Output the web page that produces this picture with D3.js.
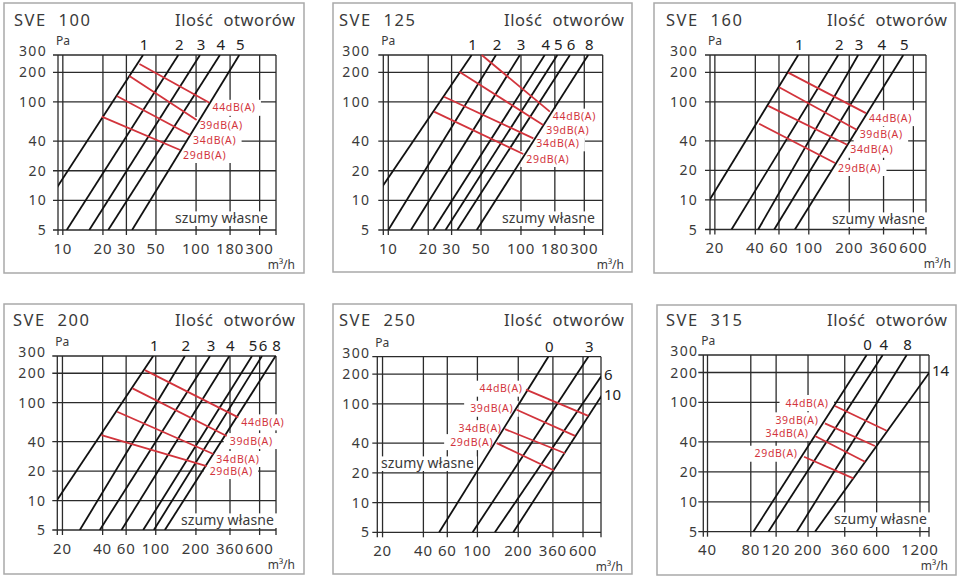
<!DOCTYPE html>
<html>
<head>
<meta charset="utf-8">
<script src="https://cdn.jsdelivr.net/npm/d3@7"></script>
<style>
  body { margin: 0; background: #fff; }
  svg { display: block; font-family: "Noto Sans", "DejaVu Sans", sans-serif; }
</style>
</head>
<body>
<svg id="chart" width="960" height="581"></svg>
<script>
// ---- data ----
const panelTitles = ['SVE  100', 'SVE  125', 'SVE  160', 'SVE  200', 'SVE  250', 'SVE  315'];
const holesTitle = 'Ilość  otworów';
const unitLabel = 'm³/h';
const pressureLabel = 'Pa';
const selfNoiseLabel = 'szumy własne';

const yTickValues = [5, 10, 20, 40, 100, 200, 300];
const xTickValues = [
  [10, 20, 30, 50, 100, 180, 300],
  [10, 20, 30, 50, 100, 180, 300],
  [20, 40, 60, 100, 200, 360, 600],
  [20, 40, 60, 100, 200, 360, 600],
  [20, 40, 60, 100, 200, 360, 600],
  [40, 80, 120, 200, 360, 600, 1200]
];

// number of open holes, one curve each
const lineNames = [
  ['1', '2', '3', '4', '5'],
  ['1', '2', '3', '4', '5', '6', '8'],
  ['1', '2', '3', '4', '5'],
  ['1', '2', '3', '4', '5', '6', '8'],
  ['0', '3', '6', '10'],
  ['0', '4', '8', '14']
];
// flow (m3/h) of each curve at 5 Pa and at 300 Pa
const lineFlowAt5Pa = [
  [5.6, 10.7, 15.8, 21.9, 33.1],
  [5.4, 10, 14.8, 21.8, 27, 33.1, 46.4],
  [13.4, 26.6, 42, 55.3, 78.8],
  [12.9, 27, 38.1, 55.4, 80.5, 96.8, 117],
  [52.3, 92.2, 134.6, 183.8],
  [83.3, 106, 167, 223.6]
];
const lineFlowAt300Pa = [
  [40, 73.6, 107, 151, 211],
  [42.5, 64.8, 98.2, 151, 188, 234, 321],
  [83.4, 165.6, 233, 343, 505],
  [95.7, 165.4, 255, 356, 526, 625, 790],
  [333, 656, 1026, 1262],
  [511, 661, 970, 1706]
];

// noise level lines, [flow, Pa] at both ends
const noiseLevels = ['44dB(A)', '39dB(A)', '34dB(A)', '29dB(A)'];
const noiseStart = [
  [[37.6, 243], [31.6, 184], [25.4, 115], [19.6, 70.9]],
  [[50.6, 300], [34.3, 203], [26.3, 113], [22.1, 79.7]],
  [[70.3, 198.5], [60.2, 141], [49.9, 91], [42.7, 59.8]],
  [[82.9, 215], [67, 140], [51.4, 80.8], [39.2, 46.7]],
  [[228, 139], [194.6, 87], [159.6, 55.4], [138.6, 40]],
  [[308, 92], [262, 61.6], [223.6, 45.9], [187.5, 28.4]]
];
const noiseEnd = [
  [[126, 98], [101, 65.6], [90.2, 46.2], [75.9, 32.5]],
  [[165, 79.7], [147, 58.4], [124, 42.7], [104, 29.6]],
  [[266, 76.7], [227, 51.9], [193, 36.5], [156.6, 23.8]],
  [[415, 70.8], [340, 45.6], [270, 29.9], [240.6, 22.5]],
  [[656, 75.6], [524, 47.4], [442, 31.6], [367, 21.1]],
  [[705, 51.9], [584, 36.4], [498, 25.3], [413, 17.2]]
];

// ---- layout (pixels) ----
const panelLayout = [
  { box: [4, 3, 304, 273], plot: [58, 55, 276, 230], xDomain: [9.2, 398], titleX: 14, rightX: 295, titleY: 26, yLab: 11, unitX: 295, noise: 'end', szumy: [268, 218, 'end'] },
  { box: [333, 3, 632, 272], plot: [383.3, 55, 602.7, 230], xDomain: [9.17, 413], titleX: 339, rightX: 624, titleY: 26, yLab: 13, unitX: 624, noise: 'end', szumy: [595, 218, 'end'] },
  { box: [654, 3, 955, 273], plot: [710, 55, 926, 229.5], xDomain: [18.4, 745], titleX: 666, rightX: 947, titleY: 26, yLab: 12, unitX: 951, noise: 'end', szumy: [925, 219, 'end'] },
  { box: [4, 304, 304, 574], plot: [57.3, 356, 276, 530], xDomain: [18.3, 796], titleX: 13, rightX: 295, titleY: 326, yLab: 11, unitX: 295, noise: 'end', szumy: [274, 520, 'end'] },
  { box: [333, 304, 632, 574], plot: [377.3, 356.7, 601, 532.3], xDomain: [18.3, 814], titleX: 339, rightX: 624, titleY: 326, yLab: 7, unitX: 623, noise: 'start', szumy: [381, 463, 'start'] },
  { box: [657, 305, 956, 575], plot: [703.3, 355, 929, 531.7], xDomain: [37.4, 1387], titleX: 666, rightX: 947, titleY: 326, yLab: 5, unitX: 948, noise: 'start', szumy: [927, 519, 'end'] }
];

const GRID = '#2b2b2b';
const INK = '#111';
const TEXT = '#3a3a3a';
const RED = '#d2343c';

const svg = d3.select('#chart');
const defs = svg.append('defs');

panelLayout.forEach((L, i) => {
  const [left, top, right, bottom] = L.plot;
  const x = d3.scaleLog().domain(L.xDomain).range([left, right]);
  const y = d3.scaleLog().domain([5, 300]).range([bottom, top]);

  defs.append('clipPath').attr('id', `clip${i}`)
    .append('rect').attr('x', left).attr('y', top).attr('width', right - left).attr('height', bottom - top);

  const g = svg.append('g');

  // panel frame
  g.append('rect')
    .attr('x', L.box[0]).attr('y', L.box[1])
    .attr('width', L.box[2] - L.box[0]).attr('height', L.box[3] - L.box[1])
    .attr('fill', '#fff').attr('stroke', '#a9a9a9').attr('stroke-width', 1.5);

  const gridG = g.append('g').attr('stroke', GRID).attr('stroke-width', 1.3);
  const maskG = g.append('g').attr('fill', '#fff');
  const curveG = g.append('g').attr('clip-path', `url(#clip${i})`)
    .attr('stroke', INK).attr('stroke-width', 1.8);
  const redG = g.append('g').attr('stroke', RED).attr('stroke-width', 1.8);
  const textG = g.append('g').attr('fill', TEXT);

  // grid: horizontal lines with left ticks, vertical lines with bottom ticks, plot edges
  gridG.append('g').selectAll('line').data(yTickValues).join('line')
    .attr('x1', left - 5).attr('x2', right)
    .attr('y1', d => y(d)).attr('y2', d => y(d));
  gridG.append('g').selectAll('line').data(xTickValues[i]).join('line')
    .attr('x1', d => x(d)).attr('x2', d => x(d))
    .attr('y1', top).attr('y2', bottom + 5);
  gridG.append('g').selectAll('line').data(L.xDomain).join('line')
    .attr('x1', d => x(d)).attr('x2', d => x(d))
    .attr('y1', top).attr('y2', bottom + 5);

  // pressure-flow curves per number of holes
  const curves = lineNames[i].map((name, k) => ({ name, q5: lineFlowAt5Pa[i][k], q300: lineFlowAt300Pa[i][k] }));
  curveG.selectAll('line').data(curves).join('line')
    .attr('x1', d => x(d.q5)).attr('y1', y(5))
    .attr('x2', d => x(d.q300)).attr('y2', y(300));

  // noise level lines
  const noise = noiseLevels.map((label, k) => ({ label, a: noiseStart[i][k], b: noiseEnd[i][k] }));
  redG.selectAll('line').data(noise).join('line')
    .attr('x1', d => x(d.a[0])).attr('y1', d => y(d.a[1]))
    .attr('x2', d => x(d.b[0])).attr('y2', d => y(d.b[1]));

  // titles
  textG.append('text')
    .attr('x', L.titleX).attr('y', L.titleY)
    .attr('font-size', 16.5).style('white-space', 'pre')
    .attr('textLength', 76).attr('lengthAdjust', 'spacing')
    .text(panelTitles[i]);
  textG.append('text')
    .attr('x', L.rightX).attr('y', L.titleY)
    .attr('font-size', 16.5).attr('text-anchor', 'end').style('white-space', 'pre')
    .attr('textLength', 120).attr('lengthAdjust', 'spacing')
    .text(holesTitle);

  textG.append('text')
    .attr('x', left - 2).attr('y', top - 10)
    .attr('font-size', 12)
    .text(pressureLabel);
  textG.append('text')
    .attr('x', L.unitX).attr('y', bottom + 38.5)
    .attr('font-size', 12).attr('text-anchor', 'end')
    .text(unitLabel);

  // axis tick labels (the top one sits a little above the frame, as in the original)
  textG.append('g').selectAll('text').data(yTickValues).join('text')
    .attr('x', left - L.yLab).attr('y', d => y(d) - (d === 300 ? 4 : 0)).attr('dy', '0.36em')
    .attr('font-size', 14).attr('letter-spacing', 1.3).attr('text-anchor', 'end')
    .text(d => d);
  textG.append('g').selectAll('text').data(xTickValues[i]).join('text')
    .attr('x', d => x(d)).attr('y', bottom + 23.5)
    .attr('font-size', 15).attr('letter-spacing', 0.8).attr('text-anchor', 'middle')
    .text(d => d);

  // curve labels: above the top edge, or right of the plot when the curve leaves through the side
  const [qMin, qMax] = L.xDomain;
  textG.append('g').selectAll('text').data(curves).join('text')
    .attr('font-size', 15).attr('fill', '#222')
    .each(function (d) {
      const t = d3.select(this);
      if (x(d.q300) <= right + 0.5) {
        t.attr('x', x(d.q300) + 1).attr('y', top - 5).attr('text-anchor', 'middle');
      } else {
        const f = (Math.log(qMax) - Math.log(d.q5)) / (Math.log(d.q300) - Math.log(d.q5));
        const p = 5 * Math.pow(60, f);
        t.attr('x', right + 3).attr('y', y(p) + 3).attr('text-anchor', 'start');
      }
    })
    .text(d => d.name);

  // noise level labels with white backing over the grid
  const noiseText = textG.append('g').attr('fill', RED).selectAll('text').data(noise).join('text')
    .attr('font-size', 10.5)
    .attr('textLength', 42.5).attr('lengthAdjust', 'spacing')
    .attr('dy', '0.35em')
    .each(function (d) {
      const t = d3.select(this);
      if (L.noise === 'end') {
        t.attr('x', x(d.b[0]) + 3).attr('y', y(d.b[1]) + 5).attr('text-anchor', 'start');
      } else {
        const off = i === 5 ? [-7, -3] : [-4, -1];
        t.attr('x', x(d.a[0]) + off[0]).attr('y', y(d.a[1]) + off[1]).attr('text-anchor', 'end');
      }
    })
    .text(d => d.label);

  noiseText.each(function () {
    const b = this.getBBox();
    const cy = +this.getAttribute('y');
    maskG.append('rect')
      .attr('x', b.x - 6).attr('width', b.width + 12)
      .attr('y', cy - 8).attr('height', 16);
  });

  // self-noise note
  const sz = textG.append('text')
    .attr('x', L.szumy[0]).attr('y', L.szumy[1]).attr('dy', '0.35em')
    .attr('font-size', 14).attr('text-anchor', L.szumy[2])
    .attr('textLength', 93).attr('lengthAdjust', 'spacing')
    .text(selfNoiseLabel);
  const sb = sz.node().getBBox();
  const base = L.szumy[1] + 14 * 0.35;
  maskG.append('rect')
    .attr('x', sb.x - 3).attr('width', sb.width + 6)
    .attr('y', base - 11.5).attr('height', 14.6);
});
</script>
</body>
</html>
